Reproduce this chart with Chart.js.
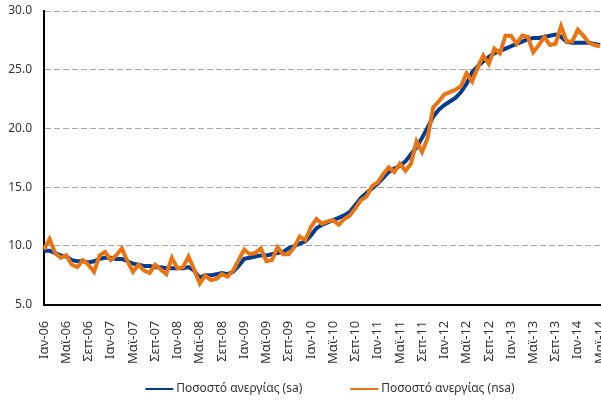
<!DOCTYPE html>
<html>
<head>
<meta charset="utf-8">
<script src="https://cdn.jsdelivr.net/npm/chart.js@4.4.1/dist/chart.umd.min.js"></script>
<style>
    html, body { margin: 0; padding: 0; background: #fff; }
    #wrap { width: 601px; height: 401px; }
</style>
</head>
<body>
<div id="wrap"><canvas id="unempChart"></canvas></div>
<script>
const months = ['Ιαν', 'Φεβ', 'Μαρ', 'Απρ', 'Μαϊ', 'Ιουν', 'Ιουλ', 'Αυγ', 'Σεπ', 'Οκτ', 'Νοε', 'Δεκ'];
const years = ['06', '07', '08', '09', '10', '11', '12', '13', '14'];

// Ιαν-06 ... Μαϊ-14
const labels = [];
years.forEach(y => months.forEach(m => labels.push(m + '-' + y)));
labels.length = 101;

const yTicks = [5, 10, 15, 20, 25, 30];

const rateSa = [
    9.6, 9.6, 9.4, 9.2, 9.1, 8.8, 8.7, 8.7, 8.6, 8.7, 8.9, 9.0,
    9.0, 8.9, 8.9, 8.7, 8.5, 8.4, 8.3, 8.3, 8.2, 8.2, 8.1, 8.1,
    8.1, 8.1, 8.2, 7.9, 7.3, 7.5, 7.5, 7.6, 7.7, 7.6, 7.8, 8.3,
    8.9, 9.0, 9.1, 9.2, 9.2, 9.3, 9.4, 9.5, 9.8, 10.0, 10.2, 10.4,
    10.9, 11.5, 11.8, 12.0, 12.2, 12.4, 12.6, 12.9, 13.5, 14.1, 14.5, 14.9,
    15.3, 15.8, 16.3, 16.6, 16.8, 17.2, 17.8, 18.4, 19.2, 20.1, 21.0, 21.6,
    22.0, 22.3, 22.6, 23.1, 23.8, 24.8, 25.3, 25.7, 26.1, 26.4, 26.6, 26.8,
    27.0, 27.2, 27.4, 27.6, 27.7, 27.7, 27.8, 27.9, 28.0, 27.8, 27.4, 27.3,
    27.3, 27.3, 27.3, 27.2, 27.1
];

const rateNsa = [
    9.7, 10.6, 9.4, 9.0, 9.2, 8.4, 8.2, 8.8, 8.4, 7.8, 9.2, 9.5,
    8.8, 9.2, 9.8, 8.7, 7.8, 8.4, 7.9, 7.7, 8.4, 8.0, 7.6, 9.0,
    8.1, 8.2, 9.1, 8.0, 6.8, 7.5, 7.1, 7.2, 7.6, 7.4, 7.9, 8.8,
    9.7, 9.3, 9.4, 9.8, 8.7, 8.8, 9.9, 9.3, 9.3, 9.9, 10.8, 10.5,
    11.6, 12.3, 11.9, 12.1, 12.2, 11.8, 12.3, 12.6, 13.2, 13.9, 14.2, 15.1,
    15.4, 16.1, 16.7, 16.3, 17.0, 16.4, 17.0, 18.9, 18.0, 19.2, 21.8, 22.3,
    22.9, 23.1, 23.3, 23.6, 24.7, 24.0, 25.2, 26.2, 25.5, 26.8, 26.4, 27.9,
    27.9, 27.2, 27.9, 27.8, 26.5, 27.1, 27.8, 27.1, 27.2, 28.7, 27.4, 27.4,
    28.4, 27.9, 27.3, 27.1, 27.0
];

const FONT = '"Noto Sans", "Open Sans", sans-serif';

// legend drawn by hand: short line + text, wide gap between items
const lineLegend = {
    id: 'lineLegend',
    afterDraw(chart) {
        const ctx = chart.ctx;
        const sets = chart.data.datasets;
        const gap = 48, lineW = 28;
        ctx.save();
        ctx.font = '12px ' + FONT;
        ctx.textBaseline = 'middle';
        const widths = sets.map(d => lineW + 3 + ctx.measureText(d.label).width);
        let x = 330 - (widths[0] + widths[1] + gap) / 2;
        const y = 389;
        sets.forEach((d, i) => {
            ctx.strokeStyle = d.borderColor;
            ctx.lineWidth = 2;
            ctx.beginPath();
            ctx.moveTo(x, y);
            ctx.lineTo(x + lineW, y);
            ctx.stroke();
            ctx.fillStyle = '#333';
            ctx.fillText(d.label, x + lineW + 3, y);
            x += widths[i] + gap;
        });
        ctx.restore();
    }
};

const ctx = document.getElementById('unempChart');

new Chart(ctx, {
    type: 'line',
    data: {
        labels: labels,
        datasets: [
            {
                label: 'Ποσοστό ανεργίας (sa)',
                data: rateSa,
                borderColor: '#033c93',
                borderWidth: 4,
                pointRadius: 0,
                tension: 0,
                order: 1
            },
            {
                label: 'Ποσοστό ανεργίας (nsa)',
                data: rateNsa,
                borderColor: '#eb7412',
                borderWidth: 4,
                pointRadius: 0,
                tension: 0,
                order: 0
            }
        ]
    },
    options: {
        responsive: true,
        maintainAspectRatio: false,
        animation: false,
        layout: {
            padding: { left: 6, right: 1, top: 11, bottom: 21 }
        },
        scales: {
            x: {
                offset: false,
                grid: { display: false, drawTicks: false },
                border: { color: '#000', width: 2 },
                afterFit: function (scale) {
                    scale.paddingLeft = 0;
                    scale.paddingRight = 0;
                },
                ticks: {
                    autoSkip: false,
                    minRotation: 90,
                    maxRotation: 90,
                    padding: 16,
                    color: '#333',
                    font: { family: FONT, size: 13 },
                    callback: function (val, i) {
                        return i % 4 === 0 ? labels[i] : '';
                    }
                }
            },
            y: {
                min: 5,
                max: 30,
                afterBuildTicks: function (scale) {
                    scale.ticks = yTicks.map(v => ({ value: v }));
                },
                afterFit: function (scale) {
                    scale.width = 38;
                    scale.paddingTop = 0;
                },
                grid: {
                    drawTicks: false,
                    lineWidth: 1,
                    color: c => c.tick && c.tick.value === 5 ? 'rgba(0,0,0,0)' : '#a6a6a6'
                },
                border: { color: '#000', width: 2, dash: [6, 3] },
                ticks: {
                    padding: 12,
                    color: '#333',
                    font: { family: FONT, size: 12 },
                    callback: v => v.toFixed(1)
                }
            }
        },
        plugins: {
            legend: { display: false },
            tooltip: { enabled: false }
        }
    },
    plugins: [lineLegend]
});
</script>
</body>
</html>
